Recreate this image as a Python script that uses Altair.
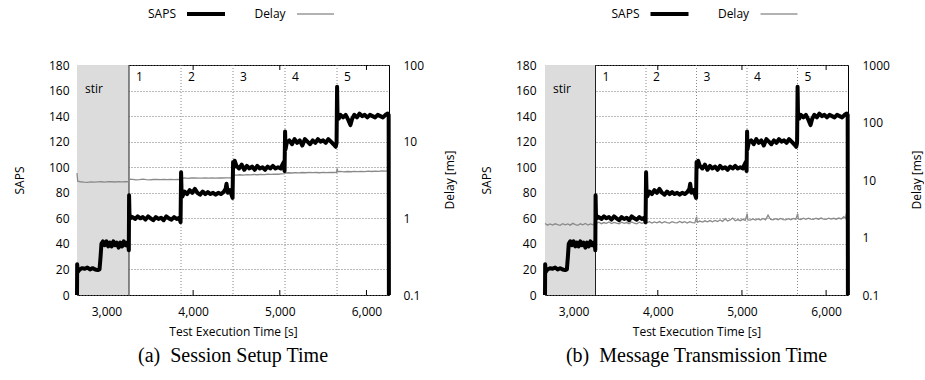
import altair as alt
import pandas as pd

FONT = "Open Sans"
SERIF = "Liberation Serif"

# ---------------- data ----------------
phase_names = ["stir", "1", "2", "3", "4", "5"]
phase_start = [2660, 3260, 3860, 4460, 5060, 5660]
phase_end = [3260, 3860, 4460, 5060, 5660, 6260]

x_ticks = [3000, 4000, 5000, 6000]
saps_ticks = [0, 20, 40, 60, 80, 100, 120, 140, 160, 180]

# SAPS (same load profile in both tests): (time [s], SAPS)
saps_points = [
    (2660, 0), (2662, 24), (2668, 18), (2690, 20), (2720, 21), (2750, 20.5), (2780, 21.5),
    (2810, 20), (2840, 21), (2870, 20), (2900, 19.5), (2920, 20), (2932, 30), (2942, 40),
    (2960, 42), (2980, 39), (3000, 42), (3020, 38), (3040, 41), (3060, 38), (3080, 42),
    (3100, 39), (3120, 41), (3140, 37), (3160, 41), (3180, 38), (3200, 42), (3220, 39),
    (3240, 41), (3255, 37), (3258, 35),
    (3261, 78), (3265, 64), (3275, 60), (3300, 61), (3330, 59.5), (3360, 61.5), (3390, 60),
    (3420, 61), (3450, 59), (3480, 61.5), (3510, 60), (3540, 58.5), (3570, 61), (3600, 59.5),
    (3630, 60.5), (3660, 58.5), (3690, 61.5), (3720, 60), (3750, 59), (3780, 61), (3810, 59.5),
    (3840, 60.5), (3855, 57),
    (3861, 96), (3866, 82), (3875, 77), (3900, 81), (3930, 79), (3960, 82), (3990, 80),
    (4020, 83), (4050, 80), (4080, 78.5), (4110, 81), (4140, 79), (4170, 80.5), (4200, 79),
    (4230, 80), (4260, 78.5), (4290, 80), (4320, 79), (4350, 80.5), (4375, 83), (4385, 87),
    (4400, 80), (4425, 82), (4445, 78), (4455, 76),
    (4461, 104), (4470, 100), (4480, 105), (4500, 101), (4530, 99), (4560, 102), (4590, 98),
    (4620, 101), (4650, 99), (4680, 100.5), (4710, 98), (4740, 101), (4770, 99), (4800, 100),
    (4830, 98), (4860, 100.5), (4890, 99), (4920, 101), (4950, 99), (4980, 100), (5010, 99),
    (5030, 102), (5045, 104), (5055, 97),
    (5061, 128), (5066, 114), (5080, 119), (5110, 121), (5140, 118), (5170, 122), (5200, 119),
    (5230, 121), (5260, 117), (5290, 122), (5320, 120), (5350, 118), (5380, 121), (5410, 119),
    (5440, 122), (5470, 120), (5500, 121), (5530, 119), (5560, 122), (5590, 120), (5620, 118),
    (5645, 116), (5655, 119),
    (5661, 163), (5666, 141), (5680, 138), (5700, 141), (5730, 139), (5760, 141), (5790, 137),
    (5815, 133), (5835, 138), (5860, 141), (5890, 139), (5920, 142), (5950, 140), (5980, 141),
    (6010, 139), (6040, 141), (6070, 140), (6100, 139), (6130, 141), (6160, 140), (6190, 139),
    (6220, 141), (6245, 142), (6256, 141), (6259, 0),
]

# Delay, Session Setup Time [ms]
delay_a_points = [
    (2660, 3.9), (2668, 3.05), (2700, 3.0), (2740, 2.97), (2780, 2.95), (2820, 2.98),
    (2860, 2.96), (2900, 2.99), (2940, 3.0), (2980, 2.97), (3020, 3.02), (3060, 3.0),
    (3100, 2.98), (3140, 3.01), (3180, 2.99), (3220, 3.0), (3255, 3.01),
    (3265, 3.25), (3300, 3.22), (3340, 3.18), (3380, 3.2), (3420, 3.24), (3460, 3.2),
    (3500, 3.17), (3540, 3.21), (3580, 3.23), (3620, 3.2), (3660, 3.22), (3700, 3.19),
    (3740, 3.22), (3780, 3.2), (3820, 3.21), (3855, 3.2),
    (3865, 3.35), (3900, 3.37), (3940, 3.33), (3980, 3.36), (4020, 3.38), (4060, 3.35),
    (4100, 3.34), (4140, 3.37), (4180, 3.35), (4220, 3.36), (4260, 3.34), (4300, 3.37),
    (4340, 3.36), (4380, 3.38), (4420, 3.37), (4455, 3.38),
    (4465, 3.68), (4500, 3.66), (4540, 3.7), (4580, 3.67), (4620, 3.72), (4660, 3.69),
    (4700, 3.73), (4740, 3.7), (4780, 3.74), (4820, 3.72), (4860, 3.76), (4900, 3.74),
    (4940, 3.78), (4980, 3.76), (5020, 3.8), (5055, 3.82),
    (5062, 4.05), (5070, 3.9), (5100, 3.93), (5140, 3.9), (5180, 3.95), (5220, 3.92),
    (5260, 3.96), (5300, 3.93), (5340, 3.97), (5380, 3.94), (5420, 3.96), (5460, 3.93),
    (5500, 3.97), (5540, 3.95), (5580, 3.98), (5620, 3.96), (5655, 3.97),
    (5662, 4.5), (5670, 4.05), (5700, 4.1), (5740, 4.04), (5780, 4.08), (5820, 4.05),
    (5860, 4.09), (5900, 4.06), (5940, 4.1), (5980, 4.07), (6020, 4.12), (6060, 4.08),
    (6100, 4.13), (6140, 4.1), (6180, 4.15), (6220, 4.12), (6258, 4.2),
]

# Delay, Message Transmission Time [ms]
delay_b_points = [
    (2660, 1.75), (2690, 1.64), (2720, 1.72), (2750, 1.65), (2780, 1.73), (2810, 1.67),
    (2840, 1.63), (2870, 1.74), (2900, 1.66), (2930, 1.72), (2960, 1.64), (2990, 1.76),
    (3020, 1.67), (3050, 1.63), (3080, 1.73), (3110, 1.66), (3140, 1.75), (3170, 1.65),
    (3200, 1.72), (3230, 1.67), (3255, 1.76),
    (3262, 2.05), (3270, 1.76), (3300, 1.84), (3330, 1.74), (3360, 1.82), (3390, 1.76),
    (3420, 1.86), (3450, 1.75), (3480, 1.83), (3510, 1.77), (3540, 1.73), (3570, 1.85),
    (3600, 1.76), (3630, 1.82), (3660, 1.74), (3690, 1.86), (3720, 1.77), (3750, 1.73),
    (3780, 1.84), (3810, 1.76), (3840, 1.82),
    (3862, 2.1), (3870, 1.80), (3900, 1.88), (3930, 1.78), (3960, 1.87), (3990, 1.80),
    (4020, 1.89), (4050, 1.79), (4080, 1.88), (4110, 1.81), (4140, 1.78), (4170, 1.89),
    (4200, 1.82), (4230, 1.80), (4260, 1.90), (4290, 1.81), (4320, 1.88), (4350, 1.79),
    (4380, 1.89), (4410, 1.82), (4440, 1.80),
    (4462, 2.3), (4470, 1.84), (4500, 1.93), (4530, 1.85), (4560, 1.95), (4590, 1.87),
    (4620, 1.97), (4650, 1.88), (4680, 1.98), (4710, 1.90), (4740, 2.02), (4770, 1.91),
    (4800, 2.12), (4830, 1.93), (4860, 2.02), (4890, 2.18), (4920, 1.95), (4950, 2.05),
    (4980, 1.96), (5010, 2.07), (5040, 1.98),
    (5062, 2.6), (5070, 2.03), (5100, 2.00), (5130, 2.10), (5160, 2.01), (5190, 2.11),
    (5220, 2.02), (5250, 2.14), (5280, 2.03), (5310, 2.45), (5340, 2.06), (5370, 2.02),
    (5400, 2.12), (5430, 2.04), (5460, 2.14), (5490, 2.05), (5520, 2.03), (5550, 2.13),
    (5580, 2.04), (5610, 2.15), (5640, 2.06),
    (5662, 2.6), (5670, 2.10), (5700, 2.06), (5730, 2.17), (5760, 2.07), (5790, 2.16),
    (5820, 2.08), (5850, 2.06), (5880, 2.16), (5910, 2.08), (5940, 2.18), (5970, 2.09),
    (6000, 2.07), (6030, 2.17), (6060, 2.09), (6090, 2.16), (6120, 2.08), (6150, 2.18),
    (6180, 2.10), (6210, 2.30), (6230, 2.14), (6245, 2.75), (6258, 2.2),
]

legend_labels = ["SAPS", "Delay"]
delay_title = "Delay [ms]"

# ---------------- tables ----------------
saps_df = pd.DataFrame(saps_points, columns=["t", "saps"])
phase_df = pd.DataFrame({"phase": phase_names, "start": phase_start, "end": phase_end})
tick_df = pd.DataFrame({"tick": x_ticks})
H = 230


def panel(delay_points, delay_max, delay_ticks, W, caption, lab_pad_l, lab_pad_r, title_dx):
    delay_df = pd.DataFrame(delay_points, columns=["t", "delay"])
    xs = alt.Scale(domain=[2660, 6260], nice=False, zero=False)
    xaxis = alt.Axis(title="Test Execution Time [s]", values=x_ticks,
                     labelExpr="format(datum.value, ',')",
                     ticks=False, domain=False, grid=False, labelPadding=11,
                     titlePadding=9)

    def X(f):
        return alt.X(f, type="quantitative", scale=xs, axis=xaxis)

    # inward tick marks on bottom and top frame
    tick_bot = alt.Chart(tick_df).mark_rule(color="black", strokeWidth=1).encode(
        x=X("tick"), y=alt.value(H), y2=alt.value(H - 5))
    tick_top = alt.Chart(tick_df).mark_rule(color="black", strokeWidth=1).encode(
        x=X("tick"), y=alt.value(0), y2=alt.value(5))

    stir = alt.Chart(phase_df).transform_filter("datum.phase == 'stir'").mark_rect(
        color="#dcdcdc").encode(x=X("start"), x2="end", y=alt.value(0), y2=alt.value(H))
    dotted = alt.Chart(phase_df).transform_filter(
        "datum.phase != 'stir' && datum.phase != '1'").mark_rule(
        color="#888888", strokeDash=[1, 2], strokeWidth=1).encode(x=X("start"))
    solid = alt.Chart(phase_df).transform_filter("datum.phase == '1'").mark_rule(
        color="#222222", strokeWidth=1).encode(x=X("start"))

    delay = alt.Chart(delay_df).mark_line(color="#8a8a8a", strokeWidth=1.3).encode(
        x=X("t"),
        y=alt.Y("delay:Q",
                scale=alt.Scale(type="log", domain=[0.1, delay_max], nice=False),
                axis=alt.Axis(orient="right", values=delay_ticks, format="~g", grid=False,
                              ticks=False, domain=False, title=None,
                              labelPadding=lab_pad_r)))
    saps = alt.Chart(saps_df).mark_line(color="black", strokeWidth=4,
                                        strokeJoin="round").encode(
        x=X("t"),
        y=alt.Y("saps:Q", scale=alt.Scale(domain=[0, 180], nice=False, zero=True),
                axis=alt.Axis(orient="left", values=saps_ticks, grid=True,
                              gridDash=[1, 2], gridColor="#777777", gridWidth=1,
                              ticks=False, domain=False, title="SAPS",
                              labelPadding=lab_pad_l, titlePadding=22)))

    one = pd.DataFrame({"k": [0]})
    # right axis title, reading bottom-to-top
    d_title = alt.Chart(one).mark_text(angle=270, align="center", baseline="middle",
                                       font=FONT, fontSize=12, color="black").encode(
        x=alt.value(W + title_dx), y=alt.value(H / 2), text=alt.value(delay_title))

    stir_lab = alt.Chart(phase_df).transform_filter("datum.phase == 'stir'").mark_text(
        align="left", baseline="middle", dx=8, font=FONT, fontSize=12, color="black").encode(
        x=X("start"), y=alt.value(24), text="phase:N")
    num_lab = alt.Chart(phase_df).transform_filter("datum.phase != 'stir'").mark_text(
        align="left", baseline="middle", dx=7, font=FONT, fontSize=12, color="black").encode(
        x=X("start"), y=alt.value(12), text="phase:N")

    c = W / 2
    ly = -51
    leg_saps_t = alt.Chart(one).mark_text(align="center", baseline="middle", font=FONT,
                                          fontSize=12, color="black").encode(
        x=alt.value(c - 71), y=alt.value(ly), text=alt.value(legend_labels[0]))
    leg_saps_l = alt.Chart(one).mark_rule(color="black", strokeWidth=4).encode(
        x=alt.value(c - 46), x2=alt.value(c - 8), y=alt.value(ly))
    leg_del_t = alt.Chart(one).mark_text(align="center", baseline="middle", font=FONT,
                                         fontSize=12, color="black").encode(
        x=alt.value(c + 37), y=alt.value(ly), text=alt.value(legend_labels[1]))
    leg_del_l = alt.Chart(one).mark_rule(color="#999999", strokeWidth=1.5).encode(
        x=alt.value(c + 64), x2=alt.value(c + 101), y=alt.value(ly))

    return alt.layer(tick_bot, tick_top, stir, dotted, solid, delay, saps, d_title,
                     stir_lab, num_lab,
                     leg_saps_t, leg_saps_l, leg_del_t, leg_del_l).resolve_scale(
        y="independent").properties(
        width=W, height=H,
        title=alt.TitleParams(text=caption, orient="bottom", font=SERIF, fontSize=20,
                              fontWeight="normal", color="black", offset=9,
                              anchor="middle"))


left = panel(delay_a_points, 100, [0.1, 1, 10, 100], 312,
             "(a)\u2002Session Setup Time", 8, 14, 61)
right = panel(delay_b_points, 1000, [0.1, 1, 10, 100, 1000], 303,
              "(b)\u2002Message Transmission Time", 9, 14, 69)

chart = alt.hconcat(left, right, spacing=22).properties(
    padding={"left": 12, "top": 7, "right": 0, "bottom": 0}
).configure_axis(
    labelFont=FONT, titleFont=FONT, labelFontSize=12, titleFontSize=12,
    titleFontWeight="normal", labelColor="black", titleColor="black"
).configure_view(stroke="black", strokeWidth=1)

chart.save("out.html", embed_options={"renderer": "svg", "actions": False})
